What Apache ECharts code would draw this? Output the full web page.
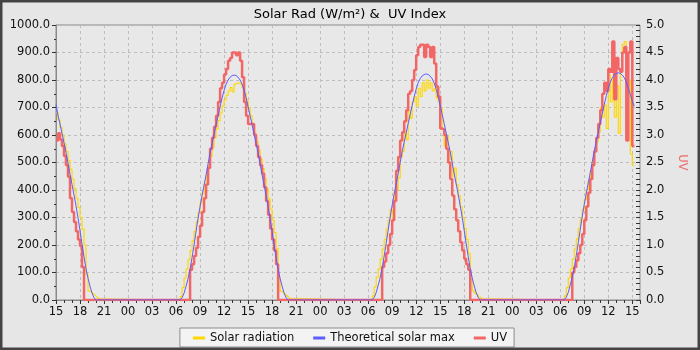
<!DOCTYPE html>
<html>
<head>
<meta charset="utf-8">
<script src="https://cdn.jsdelivr.net/npm/echarts@6/dist/echarts.min.js"></script>
<style>
  html, body { margin: 0; padding: 0; background: #e6e6e6; }
  #chart { width: 700px; height: 350px; }
</style>
</head>
<body>
<div id="chart"></div>
<script>
// Tick labels along the time axis, one every 3 hours from 15:00 on day 1
const hourLabels = ['15','18','21','00','03','06','09','12','15','18','21','00','03','06','09','12','15','18','21','00','03','06','09','12','15'];

// Samples are logged every 15 minutes; blocks start at these hour offsets
// (15:00 on day 1, then 06:00 on each following morning)
const SAMPLE_STEP = 0.25;
const blockStarts = [0, 15, 39, 63];

// Solar radiation, W/m²
const solarDay1 = [680,655,628,600,568,540,508,475,440,405,370,336,300,258,200,92,32,27,21,14,8,3,0];
const solarDay2 = [0,0,12,45,80,112,146,180,215,250,285,318,352,386,420,453,488,522,556,590,622,652,680,706,728,745,760,772,757,785,790,788,782,770,752,730,700,670,640,608,577,545,512,478,442,405,368,330,290,245,188,80,32,25,18,11,5,0];
const solarDay3 = [0,0,15,48,82,112,148,185,220,258,290,330,300,392,400,445,520,540,605,582,690,660,720,740,705,770,740,790,760,800,770,790,760,770,735,720,700,620,560,600,510,540,450,480,420,380,340,300,260,220,170,75,33,25,18,10,4,0];
const solarDay4 = [0,0,15,45,80,112,148,185,222,260,295,330,365,400,432,470,505,540,575,610,700,665,710,624,820,720,800,665,780,606,830,930,940,700,800,530,490,490];

// Theoretical clear-sky maximum, W/m²
const theoDay1 = [710,672,640,606,572,537,498,458,420,382,342,299,252,203,157,114,79,50,25,8,0];
const theoDay2 = [0,0,0,8,25,50,78,112,155,200,250,297,340,380,418,455,495,535,569,603,637,670,703,735,762,785,800,810,816,818,816,810,800,785,762,735,703,670,637,603,569,535,495,455,418,380,340,297,250,200,155,112,78,50,25,8,0];
const theoDay3 = [0,0,0,9,27,53,81,116,160,205,255,302,345,385,423,460,500,540,574,608,642,675,708,740,767,790,805,815,820,822,820,814,804,789,766,739,707,674,641,607,573,539,499,459,421,383,343,300,253,203,158,114,80,51,26,9,0];
const theoDay4 = [0,0,0,10,28,55,84,118,162,208,258,305,348,388,426,463,503,543,577,611,645,678,711,743,770,793,808,818,824,826,824,818,808,793,770,748,722,705];

// UV index
const uvDay1 = [2.9,3.03,2.92,2.8,2.62,2.45,2.24,1.85,1.6,1.42,1.25,1.1,0.98,0.6,0];
const uvDay2 = [0,0,0,0,0,0,0,0.55,0.65,0.8,0.95,1.15,1.35,1.6,1.85,2.1,2.4,2.75,2.95,3.15,3.35,3.6,3.85,3.95,4.1,4.2,4.35,4.4,4.5,4.5,4.45,4.5,4.35,4.05,3.6,3.35,3.2,3.2,3.2,3.0,2.8,2.6,2.45,2.3,2.05,1.8,1.55,1.3,1.1,0.9,0.65,0];
const uvDay3 = [0,0,0,0,0,0,0,0.6,0.7,0.85,1.0,1.2,1.45,1.8,2.35,2.6,2.9,3.05,3.25,3.45,3.75,3.8,4.0,4.18,4.45,4.6,4.64,4.64,4.42,4.64,4.6,4.42,4.6,4.3,3.88,3.7,3.12,3.1,3.0,2.75,2.5,2.2,1.9,1.65,1.45,1.25,1.05,0.9,0.75,0.65,0.55,0];
const uvDay4 = [0,0,0,0,0,0,0.5,0.6,0.72,0.85,1.0,1.2,1.45,1.7,1.95,2.2,2.45,2.7,2.95,3.2,3.45,3.75,3.95,3.8,4.2,4.15,4.7,3.65,4.4,4.2,4.15,4.5,4.6,2.9,4.5,4.7,2.8,2.8];

// Turn the per-day blocks into [hours since 15:00, value] pairs
function toPoints(blocks) {
  const pts = [];
  blocks.forEach((vals, b) => {
    vals.forEach((v, i) => pts.push([blockStarts[b] + i * SAMPLE_STEP, v]));
  });
  return pts;
}

const solarPoints = toPoints([solarDay1, solarDay2, solarDay3, solarDay4]);
const theoPoints = toPoints([theoDay1, theoDay2, theoDay3, theoDay4]);
const uvPoints = toPoints([uvDay1, uvDay2, uvDay3, uvDay4]);

const FONT = 'DejaVu Sans';
const gridLine = { show: true, lineStyle: { color: '#bdbdbd', type: [3, 3], width: 1 } };
const axisLine = { show: true, lineStyle: { color: '#8a8a8a', width: 1 } };

const chart = echarts.init(document.getElementById('chart'), null, { renderer: 'canvas' });
chart.setOption({
  animation: false,
  backgroundColor: '#e6e6e6',
  textStyle: { fontFamily: FONT },
  title: {
    text: 'Solar Rad (W/m²) &  UV Index',
    left: 'center',
    top: 3,
    textStyle: { fontFamily: FONT, fontSize: 13, fontWeight: 'normal', color: '#000' }
  },
  graphic: [{
    type: 'rect',
    shape: { x: 1, y: 1, width: 698, height: 348 },
    style: { fill: 'none', stroke: '#444', lineWidth: 3 },
    silent: true,
    z: 100
  }],
  legend: {
    bottom: 3,
    left: 'center',
    padding: [4, 7, 3, 13],
    itemGap: 19,
    itemWidth: 12,
    itemHeight: 3,
    icon: 'rect',
    backgroundColor: '#f3f3f3',
    borderColor: '#8c8c8c',
    borderWidth: 1,
    borderRadius: 0,
    textStyle: { fontFamily: FONT, fontSize: 11.5, color: '#111' },
    data: ['Solar radiation', 'Theoretical solar max', 'UV']
  },
  grid: {
    left: 56, right: 60, top: 25, bottom: 50,
    outerBoundsMode: 'none',
    containLabel: false,
    show: true,
    backgroundColor: '#e8e8e8',
    borderColor: '#8a8a8a',
    borderWidth: 1
  },
  xAxis: {
    type: 'value',
    min: 0,
    max: 72.96,
    interval: 3,
    axisLine: axisLine,
    axisTick: { show: true, length: 4, lineStyle: { color: '#333' } },
    minorTick: { show: true, splitNumber: 3, length: 3, lineStyle: { color: '#333' } },
    splitLine: gridLine,
    axisLabel: {
      color: '#111', fontSize: 11.5, margin: 6, showMaxLabel: false,
      formatter: v => {
        const k = v / 3;
        return Math.abs(k - Math.round(k)) < 0.01 ? (hourLabels[Math.round(k)] || '') : '';
      }
    }
  },
  yAxis: [{
    type: 'value',
    min: 0, max: 1000, interval: 100,
    name: 'Solar Rad (W/m²)',
    nameLocation: 'middle',
    nameGap: 46,
    nameRotate: 90,
    nameTextStyle: { color: '#2f6b9a', fontSize: 11.5, fontFamily: FONT },
    axisLine: axisLine,
    axisTick: { show: true, length: 4, lineStyle: { color: '#333' } },
    minorTick: { show: true, splitNumber: 2, length: 2, lineStyle: { color: '#333' } },
    splitLine: gridLine,
    axisLabel: { color: '#111', fontSize: 11.5, margin: 6, formatter: v => v.toFixed(1) }
  }, {
    type: 'value',
    position: 'right',
    min: 0, max: 5, interval: 0.5,
    name: 'UV',
    nameLocation: 'middle',
    nameGap: 36,
    nameRotate: -90,
    nameTextStyle: { color: '#f06a6a', fontSize: 11.5, fontFamily: FONT },
    axisLine: { show: false },
    axisTick: { show: true, inside: true, length: 4, lineStyle: { color: '#333' } },
    minorTick: { show: true, splitNumber: 5, length: 4, lineStyle: { color: '#333' } },
    splitLine: { show: false },
    axisLabel: { color: '#111', fontSize: 11.5, margin: 6, formatter: v => v.toFixed(1) }
  }],
  series: [{
    name: 'Solar radiation',
    type: 'line',
    step: 'end',
    yAxisIndex: 0,
    showSymbol: false,
    color: '#ffd700',
    lineStyle: { width: 1.2, color: '#ffd700' },
    z: 2,
    data: solarPoints
  }, {
    name: 'Theoretical solar max',
    type: 'line',
    yAxisIndex: 0,
    showSymbol: false,
    color: '#5c5cff',
    lineStyle: { width: 1, color: '#5c5cff' },
    z: 4,
    data: theoPoints
  }, {
    name: 'UV',
    type: 'line',
    step: 'end',
    yAxisIndex: 1,
    showSymbol: false,
    color: '#f26666',
    lineStyle: { width: 2.5, color: '#f26666' },
    z: 3,
    data: uvPoints
  }]
});
</script>
</body>
</html>
